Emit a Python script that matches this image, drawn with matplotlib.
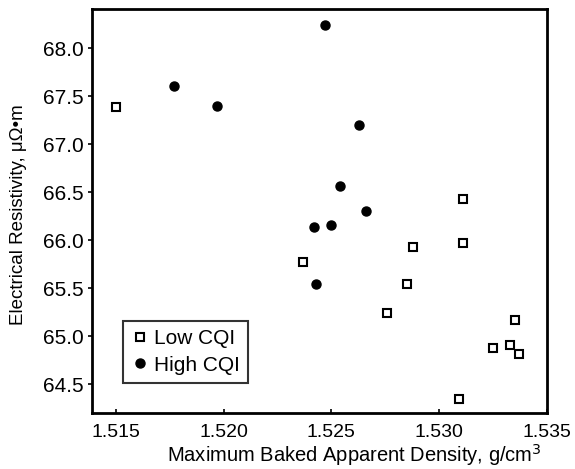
import matplotlib
matplotlib.use("Agg")
import matplotlib.pyplot as plt

plt.rcParams['font.family'] = ['Liberation Sans', 'DejaVu Sans']

# Low CQI (open squares)
low_density = [1.5150, 1.5311, 1.5237, 1.5288, 1.5311, 1.5285, 1.5276,
               1.5335, 1.5325, 1.5333, 1.5337, 1.5309]
low_resist = [67.39, 66.43, 65.77, 65.93, 65.97, 65.54, 65.24,
              65.17, 64.875, 64.91, 64.81, 64.35]

# High CQI (filled circles)
high_density = [1.5247, 1.5177, 1.5197, 1.5263, 1.5254, 1.5266, 1.5250,
                1.5242, 1.5243]
high_resist = [68.24, 67.61, 67.40, 67.20, 66.57, 66.31, 66.16, 66.14, 65.54]

x_ticks = [1.515, 1.520, 1.525, 1.530, 1.535]
y_ticks = [64.5, 65.0, 65.5, 66.0, 66.5, 67.0, 67.5, 68.0]

fig = plt.figure(figsize=(5.75, 4.69), dpi=100)
ax = fig.add_axes([92/575, 1 - 413/469, (547-92)/575, (413-9)/469])

ax.plot(low_density, low_resist, 's', ms=5.5, mfc='white', mec='black',
        mew=1.5, label="Low CQI")
ax.plot(high_density, high_resist, 'o', ms=6.5, color='black',
        label="High CQI")

ax.set_xlim(1.5139, 1.535)
ax.set_ylim(64.2, 68.41)
ax.set_xticks(x_ticks)
ax.set_xticklabels(["%.3f" % v for v in x_ticks])
ax.set_yticks(y_ticks)
ax.set_yticklabels(["%.1f" % v for v in y_ticks])

for s in ax.spines.values():
    s.set_linewidth(2)
ax.tick_params(axis='y', direction='out', length=3, width=1.2, labelsize=15, pad=3)
ax.tick_params(axis='x', direction='in', length=3, width=1.2, labelsize=14, pad=8)

ax.set_xlabel("Maximum Baked Apparent Density, g/cm$^3$", fontsize=14.5)
ax.xaxis.set_label_coords(0.576, -0.071)
ax.set_ylabel("Electrical Resistivity, \u03bc\u03a9\u2022m", fontsize=13.5)
ax.yaxis.set_label_coords(-0.143, 0.49)

leg = ax.legend(loc='lower left', bbox_to_anchor=(0.068, 0.074), fontsize=15,
                frameon=True, fancybox=False, edgecolor='black',
                handletextpad=0.3, handlelength=0.8, borderpad=0.4,
                labelspacing=0.35, borderaxespad=0)
leg.get_frame().set_linewidth(1.5)

fig.savefig("out.png", dpi=100)
